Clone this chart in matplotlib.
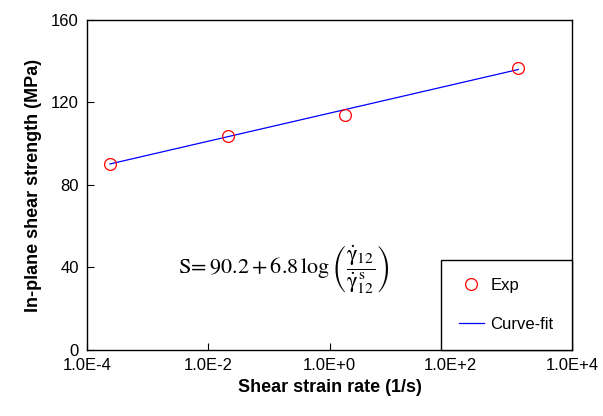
import numpy as np
import matplotlib
matplotlib.use("Agg")
from matplotlib import pyplot as plt

# ---- data ----
rate = [2.4e-4, 2.1e-2, 1.8, 1.3e3]        # shear strain rate (1/s)
strength = [90.2, 103.9, 113.9, 136.7]     # in-plane shear strength (MPa)
fit_a, fit_b = 90.2, 6.8                   # S = a + b*log(rate/rate_s)
xticks = [1e-4, 1e-2, 1e0, 1e2, 1e4]
xticklabels = ["1.0E-4", "1.0E-2", "1.0E+0", "1.0E+2", "1.0E+4"]
yticks = [0, 40, 80, 120, 160]

plt.rcParams['font.family'] = ['Liberation Sans', 'DejaVu Sans']
plt.rcParams['mathtext.fontset'] = 'stix'

fig = plt.figure(figsize=(6.03, 4.16), dpi=100)
ax = fig.add_axes([0.1443, 0.1587, 0.8043, 0.7933])

# curve fit
xs = np.logspace(np.log10(rate[0]), np.log10(rate[-1]), 50)
ax.plot(xs, fit_a + fit_b * np.log10(xs / rate[0]), color='blue', lw=0.9,
        label='Curve-fit', zorder=2)
ax.plot(rate, strength, 'o', mfc='none', mec='red', ms=8.5, mew=0.9,
        label='Exp', zorder=3)

ax.set_xscale('log')
ax.set_xlim(1e-4, 1e4)
ax.set_ylim(0, 160)
ax.set_xticks(xticks)
ax.set_xticklabels(xticklabels)
ax.set_yticks(yticks)
ax.xaxis.set_minor_locator(matplotlib.ticker.NullLocator())
ax.tick_params(direction='in', length=5, width=0.8, labelsize=12, pad=6)
for s in ax.spines.values():
    s.set_linewidth(1.0)

ax.set_xlabel('Shear strain rate (1/s)', fontsize=13, fontweight='bold', labelpad=4)
ax.set_ylabel('In-plane shear strength (MPa)', fontsize=13, fontweight='bold', labelpad=6)

ax.text(0.405, 0.245,
        r'$\mathrm{S}\!=\mathrm{90.2+6.8\,log}\,\left(\dfrac{\dot{\mathrm{\gamma}}_{12}}{\dot{\mathrm{\gamma}}_{12}^{\,\mathrm{s}}}\right)$',
        transform=ax.transAxes, fontsize=16, ha='center', va='center')

h, l = ax.get_legend_handles_labels()
leg = ax.legend(h[::-1], l[::-1], loc='lower right', fontsize=12, frameon=True,
                fancybox=False, edgecolor='black', borderpad=1.1, labelspacing=1.4,
                handlelength=1.5, handletextpad=0.4, borderaxespad=0, framealpha=1)
leg.get_frame().set_linewidth(1.0)

fig.savefig('out.png', dpi=100)
